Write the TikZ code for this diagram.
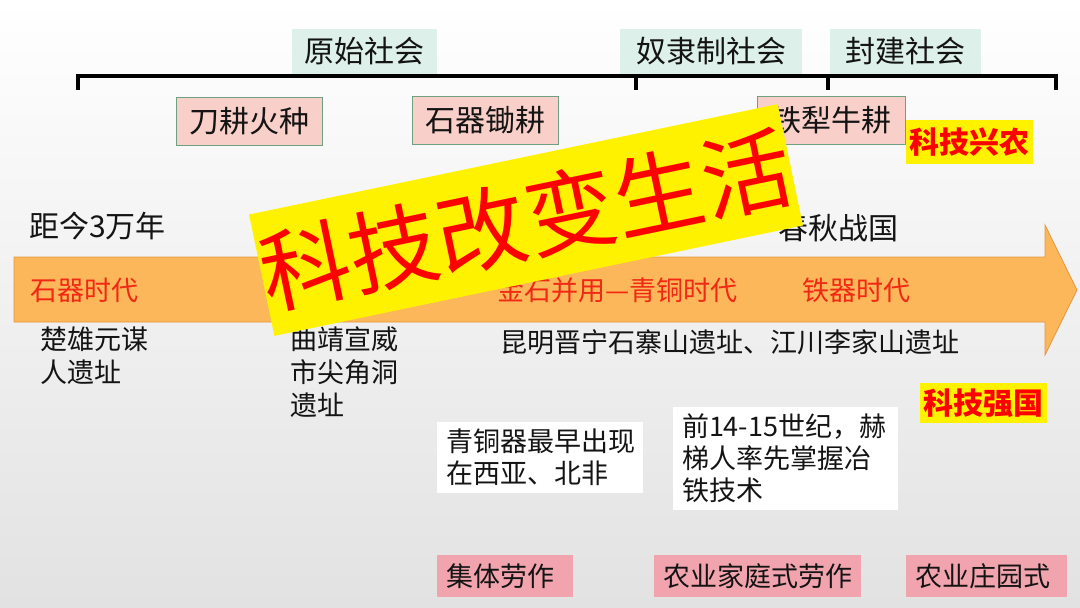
\documentclass[tikz,border=0pt]{standalone}
\usepackage{fontspec}
\setmainfont{Noto Sans CJK SC}
\definecolor{ink}{RGB}{20,20,20}
\definecolor{mint}{RGB}{221,240,233}
\definecolor{lpink}{RGB}{249,207,201}
\definecolor{lpinkline}{RGB}{110,160,130}
\definecolor{dpink}{RGB}{241,164,174}
\definecolor{band}{RGB}{252,183,90}
\definecolor{bandline}{RGB}{228,150,62}
\definecolor{bandtext}{RGB}{240,40,20}
\definecolor{bgbot}{RGB}{226,226,226}
\definecolor{bgmid}{RGB}{246,246,246}
\tikzset{
  txt/.style={inner sep=0pt, text=ink, font=\fontsize{27}{33}\selectfont, align=left},
  bigtxt/.style={inner sep=0pt, text=ink, font=\fontsize{30}{36}\selectfont},
  redtxt/.style={inner sep=0pt, text=bandtext, font=\fontsize{27}{32}\selectfont},
  mintbox/.style={fill=mint, minimum height=45pt, inner sep=0pt, text=ink, font=\fontsize{30}{36}\selectfont},
  toolbox/.style={fill=lpink, draw=lpinkline, line width=1pt, minimum height=48pt, inner sep=0pt, text=ink, font=\fontsize{30}{36}\selectfont},
  whitebox/.style={fill=white, inner xsep=9pt, inner ysep=0pt, text=ink, font=\fontsize{27}{32}\selectfont, align=left},
  pinkbox/.style={fill=dpink, minimum height=42pt, inner xsep=9pt, inner ysep=0pt, text=ink, font=\fontsize{27}{33}\selectfont, align=left},
  slogan/.style={fill=yellow, inner xsep=3pt, inner ysep=0pt, text=red, font=\fontsize{30}{36}\selectfont\bfseries},
  bracketline/.style={line width=4pt, black},
}
\begin{document}
\begin{tikzpicture}[x=1pt,y=-1pt]
\useasboundingbox (0,0) rectangle (1080,608);
\shade[top color=white, middle color=bgmid, bottom color=bgbot] (0,0) rectangle (1080,608);

% society labels
\node[mintbox, minimum width=145pt] (yuanshi) at (364.5,51) {原始社会};
\node[mintbox, minimum width=182pt] (nuli) at (711,51) {奴隶制社会};
\node[mintbox, minimum width=151pt] (fengjian) at (905.5,51) {封建社会};

% bracket
\coordinate (bl) at (78,90);
\coordinate (bla) at (78,76);
\coordinate (br) at (1056,90);
\coordinate (bra) at (1056,76);
\coordinate (m1a) at (636,76);
\coordinate (m1) at (636,90);
\coordinate (m2a) at (828,76);
\coordinate (m2) at (828,90);
\draw[bracketline] (bl) -- (bla) -- (bra) -- (br);
\draw[bracketline] (m1a) -- (m1);
\draw[bracketline] (m2a) -- (m2);

% farming methods
\node[toolbox, minimum width=146pt] (daogeng) at (249,121) {刀耕火种};
\node[toolbox, minimum width=146pt] (chugeng) at (485,120) {石器锄耕};
\node[toolbox, minimum width=148pt] (niugeng) at (831,120) {铁犁牛耕};
\node[slogan, minimum width=127pt, minimum height=44pt] (xingnong) at (969.5,142) {科技兴农};

% time labels
\node[bigtxt, anchor=west] (juji) at (29,226) {距今3万年};
\node[bigtxt, anchor=west] (chunqiu) at (778,228) {春秋战国};

% arrow band
\coordinate (a1) at (14,257);
\coordinate (a2) at (1045,257);
\coordinate (a3) at (1045,225);
\coordinate (a4) at (1077,290);
\coordinate (a5) at (1045,355);
\coordinate (a6) at (1045,322);
\coordinate (a7) at (14,322);
\draw[fill=band, draw=bandline, line width=0.8pt] (a1) -- (a2) -- (a3) -- (a4) -- (a5) -- (a6) -- (a7) -- cycle;
\node[redtxt, anchor=west] (shiqi) at (30,290) {石器时代};
\node[redtxt, anchor=west] (qingtong) at (497,290) {金石并用—青铜时代};
\node[redtxt, anchor=west] (tieqi) at (802,290) {铁器时代};

% sites
\node[txt, anchor=north west] (yuanmou) at (40,327) {楚雄元谋\\人遗址};
\node[txt, anchor=north west] (jianjiao) at (290,326) {曲靖宣威\\市尖角洞\\遗址};
\node[txt, anchor=west] (shizhai) at (500,342) {昆明晋宁石寨山遗址、江川李家山遗址};

% notes
\node[whitebox, text width=188pt, minimum height=71pt] (note1) at (540,457.5) {青铜器最早出现\\在西亚、北非};
\node[whitebox, text width=207pt, minimum height=103pt] (note2) at (785.5,458.5) {前14-15世纪，赫\\梯人率先掌握冶\\铁技术};
\node[slogan, minimum width=127pt, minimum height=40pt] (qiangguo) at (983.5,403) {科技强国};

% labour forms
\node[pinkbox, text width=118pt] (jiti) at (505,576) {集体劳作};
\node[pinkbox, text width=189pt] (jiating) at (757.5,576) {农业家庭式劳作};
\node[pinkbox, text width=143pt] (zhuangyuan) at (986.5,576) {农业庄园式};

% banner
\node[fill=yellow, rotate=11.8, minimum width=540pt, minimum height=124pt, inner sep=0pt, text=red, font=\fontsize{90}{90}\selectfont] (banner) at (526,220) {科技改变生活};
\end{tikzpicture}
\end{document}
